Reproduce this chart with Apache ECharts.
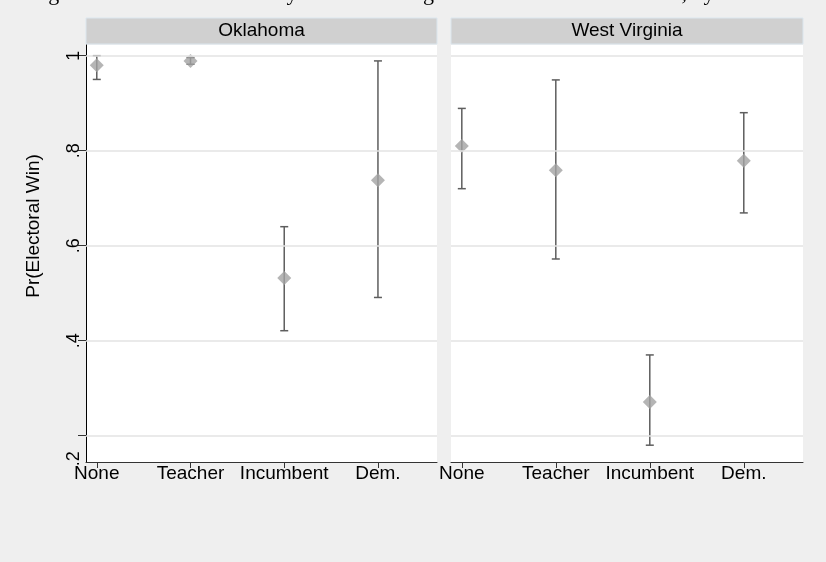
<!DOCTYPE html>
<html>
<head>
<meta charset="utf-8">
<script src="https://cdn.jsdelivr.net/npm/echarts@6/dist/echarts.min.js"></script>
<style>
  html, body { margin: 0; padding: 0; background: #efefef; }
  #main { width: 826px; height: 562px; }
</style>
</head>
<body>
<div id="main"></div>
<script>
// categories and panels
var categories = ["None", "Teacher", "Incumbent", "Dem."];
var panels = ["Oklahoma", "West Virginia"];
var xPos = [1, 2, 3, 4];

// Oklahoma: estimate + 95% interval
var okPoint = [0.980, 0.989, 0.532, 0.738];
var okLow = [0.950, 0.982, 0.421, 0.491];
var okHigh = [1.000, 0.996, 0.640, 0.989];

// West Virginia
var wvPoint = [0.810, 0.759, 0.271, 0.779];
var wvLow = [0.720, 0.572, 0.180, 0.669];
var wvHigh = [0.889, 0.949, 0.370, 0.880];

// y axis ticks
var yTicks = [0.2, 0.4, 0.6, 0.8, 1];
var yTickLabels = [".2", ".4", ".6", ".8", "1"];

var titleText = "Figure 1: Electoral Success by Teacher Background and Incumbent Status, by State";
var yTitle = "Pr(Electoral Win)";

var font = "'Liberation Sans', Arial, sans-serif";

function errorBar(params, api) {
  var x = api.value(0);
  var lo = api.coord([x, api.value(1)]);
  var hi = api.coord([x, api.value(2)]);
  var cap = 4;
  var st = { stroke: "#5e5e5e", lineWidth: 1.5 };
  return {
    type: "group",
    children: [
      { type: "line", shape: { x1: lo[0], y1: lo[1], x2: hi[0], y2: hi[1] }, style: st },
      { type: "line", shape: { x1: lo[0] - cap, y1: lo[1], x2: lo[0] + cap, y2: lo[1] }, style: st },
      { type: "line", shape: { x1: hi[0] - cap, y1: hi[1], x2: hi[0] + cap, y2: hi[1] }, style: st }
    ]
  };
}

function xAxisFor(idx) {
  return {
    type: "value",
    gridIndex: idx,
    min: 0.885,
    max: 4.63,
    axisLine: { show: true, onZero: false, lineStyle: { color: "#333", width: 1 } },
    axisTick: { show: true, customValues: xPos, length: 6, lineStyle: { color: "#333" } },
    axisLabel: {
      customValues: xPos,
      formatter: function (v) { return categories[Math.round(v) - 1]; },
      color: "#000",
      fontSize: 19,
      fontFamily: font,
      margin: 2
    },
    splitLine: { show: false }
  };
}

function yAxisFor(idx) {
  return {
    type: "value",
    gridIndex: idx,
    min: 0.1446,
    max: 1.0225,
    show: idx === 0,
    axisLine: { show: true, onZero: false, lineStyle: { color: "#000", width: 1 } },
    axisTick: { show: true, customValues: yTicks, length: 8, lineStyle: { color: "#333" } },
    axisLabel: {
      customValues: yTicks,
      rotate: 90,
      margin: 3,
      color: "#000",
      fontSize: 18,
      fontFamily: font,
      formatter: function (v) {
        var i = yTicks.indexOf(Math.round(v * 10) / 10);
        var t = i >= 0 ? yTickLabels[i] : "";
        return v < 0.3 ? "{low|" + t + "}" : t;
      },
      rich: {
        low: { padding: [0, 46, 0, 0], fontSize: 18, color: "#000", fontFamily: font }
      }
    },
    splitLine: { show: false }
  };
}

function panelSeries(idx, point, low, high) {
  var bars = [], pts = [];
  for (var i = 0; i < xPos.length; i++) {
    bars.push([xPos[i], low[i], high[i]]);
    pts.push([xPos[i], point[i]]);
  }
  return [
    {
      type: "line",
      xAxisIndex: idx, yAxisIndex: idx,
      data: [],
      z: 1,
      markLine: {
        silent: true,
        symbol: ["none", "none"],
        label: { show: false },
        lineStyle: { color: "#e3e3e3", width: 1.5, type: "solid" },
        data: yTicks.map(function (v) { return { yAxis: v }; })
      }
    },
    {
      type: "custom",
      xAxisIndex: idx, yAxisIndex: idx,
      renderItem: errorBar,
      encode: { x: 0, y: [1, 2] },
      data: bars,
      z: 3
    },
    {
      type: "scatter",
      xAxisIndex: idx, yAxisIndex: idx,
      symbol: "diamond",
      symbolSize: 14,
      itemStyle: { color: "#a2a2a2" },
      data: pts,
      z: 4
    }
  ];
}

var grids = [
  { left: 86, right: 389, top: 45, bottom: 100 },
  { left: 451, right: 23, top: 45, bottom: 100 }
];

var graphics = [
  {
    type: "text",
    left: 30, top: -17,
    style: { text: titleText, font: "22px 'Liberation Serif', 'Times New Roman', serif", fill: "#000" }
  },
  {
    type: "text",
    x: 34, y: 226,
    rotation: Math.PI / 2,
    style: { text: yTitle, font: "19px " + font, fill: "#000", align: "center", verticalAlign: "middle" }
  }
];
var stripX = [[86, 437], [451, 803]];
for (var p = 0; p < panels.length; p++) {
  graphics.push({
    type: "rect",
    shape: { x: stripX[p][0], y: 18, width: stripX[p][1] - stripX[p][0], height: 26 },
    style: { fill: "#d0d0d0", stroke: "#dbe6ee", lineWidth: 1 }
  });
  graphics.push({
    type: "text",
    x: (stripX[p][0] + stripX[p][1]) / 2, y: 31,
    style: { text: panels[p], font: "19px " + font, fill: "#000", align: "center", verticalAlign: "middle" }
  });
}

var myChart = echarts.init(document.getElementById("main"));
myChart.setOption({
  animation: false,
  backgroundColor: "#efefef",
  grid: grids.map(function (g) {
    return Object.assign({ show: true, backgroundColor: "#fff", borderWidth: 0 }, g);
  }),
  xAxis: [xAxisFor(0), xAxisFor(1)],
  yAxis: [yAxisFor(0), yAxisFor(1)],
  graphic: graphics,
  series: panelSeries(0, okPoint, okLow, okHigh).concat(panelSeries(1, wvPoint, wvLow, wvHigh))
});
</script>
</body>
</html>
